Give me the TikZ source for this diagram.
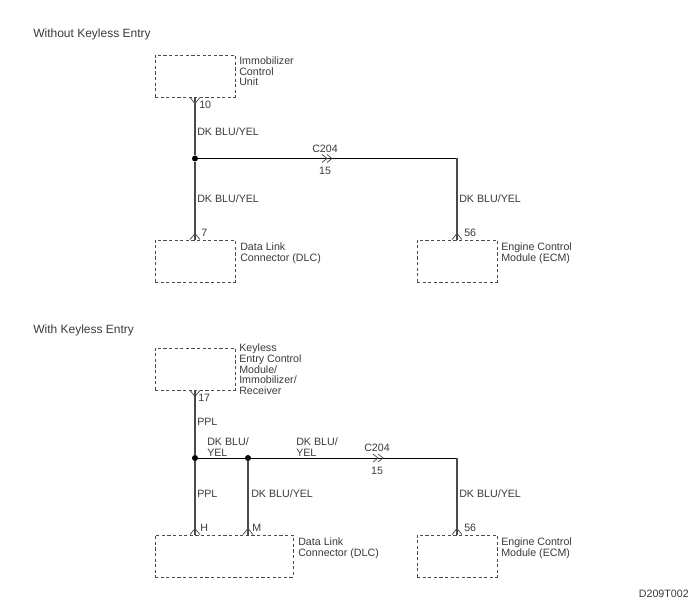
\documentclass[tikz,border=0pt]{standalone}
\usepackage{fontspec}
\setmainfont{Liberation Sans}
\definecolor{wirecol}{HTML}{4A4A4A}
\definecolor{textcol}{HTML}{3A3A3A}
\newcommand{\pinup}[1]{\draw[pinline] ($(#1)+(-5,0)$) -- ($(#1)+(0,-6)$) -- ($(#1)+(5,0)$);}
\newcommand{\pindown}[1]{\draw[pinline] ($(#1)+(-5,0)$) -- ($(#1)+(0,6)$) -- ($(#1)+(5,0)$);}
\newcommand{\chevrons}[1]{\draw[pinline] ($(#1)+(-5,-4)$) -- ($(#1)+(0,0)$) -- ($(#1)+(-5,4)$);
  \draw[pinline] ($(#1)+(0,-4)$) -- ($(#1)+(5,0)$) -- ($(#1)+(0,4)$);}
\usetikzlibrary{calc}
\begin{document}
\begin{tikzpicture}[
  x=.75pt, y=-.75pt,
  compbox/.style={draw=wirecol, dash pattern=on 2.4pt off 1.8pt, line width=.7pt, minimum width=60pt, minimum height=31.5pt, inner sep=0pt},
  lbl/.style={anchor=west, inner sep=0pt, align=left, text=textcol, yshift=-.6pt, font=\fontsize{8pt}{8pt}\selectfont},
  lblc/.style={lbl, anchor=center},
  head/.style={lbl, font=\fontsize{9pt}{9pt}\selectfont},
  wire/.style={draw=wirecol, line width=.8pt},
  hwire/.style={draw=black, line width=.6pt},
  pinline/.style={draw=wirecol, line width=.55pt},
  junction/.style={circle, fill=black, inner sep=0pt, minimum size=4.5pt}]

  \useasboundingbox (0,0) rectangle (700,609);

  \node[head] (headA) at (33,34) {Without Keyless Entry};
  \node[head] (headB) at (33,330) {With Keyless Entry};
  \node[lbl, anchor=east] (code) at (689,593) {D209T002};

  % without keyless entry
  \node[compbox] (imm) at (195,76) {};
  \node[compbox] (dlcA) at (195,261) {};
  \node[compbox] (ecmA) at (457,261) {};
  \node[junction] (jA) at (195,158.5) {};
  \coordinate (cornerA) at (457,158.5);
  \coordinate (crimpA) at (327,158.5);

  \draw[wire] (imm.south) -- (jA);
  \draw[wire] (jA) -- (dlcA.north);
  \draw[hwire] (jA) -- (cornerA);
  \draw[wire] (cornerA) -- (ecmA.north);
  \pindown{imm.south}
  \pinup{dlcA.north}
  \pinup{ecmA.north}
  \chevrons{crimpA}

  \node[lbl] (immText) at (239,70.5) {Immobilizer\\Control\\Unit};
  \node[lbl] at (199,104) {10};
  \node[lbl] at (197,131) {DK BLU/YEL};
  \node[lblc] at (325,148) {C204};
  \node[lblc] at (325,170) {15};
  \node[lbl] at (197,198) {DK BLU/YEL};
  \node[lbl] at (459,198) {DK BLU/YEL};
  \node[lbl] at (201,232) {7};
  \node[lbl] at (464,232) {56};
  \node[lbl] (dlcAText) at (240,252.5) {Data Link\\Connector (DLC)};
  \node[lbl] (ecmAText) at (501,252.5) {Engine Control\\Module (ECM)};

  % with keyless entry
  \node[compbox] (keyless) at (195,369) {};
  \node[compbox, minimum width=103.5pt] (dlcB) at (224,556) {};
  \node[compbox] (ecmB) at (457,556) {};
  \node[junction] (jB) at (195,458) {};
  \node[junction] (jC) at (248,458) {};
  \coordinate (cornerB) at (457,458);
  \coordinate (crimpB) at (378,458);
  \coordinate (pinH) at (jB |- dlcB.north);
  \coordinate (pinM) at (jC |- dlcB.north);

  \draw[wire] (keyless.south) -- (jB);
  \draw[wire] (jB) -- (pinH);
  \draw[wire] (jC) -- (pinM);
  \draw[hwire] (jB) -- (jC);
  \draw[hwire] (jC) -- (cornerB);
  \draw[wire] (cornerB) -- (ecmB.north);
  \pindown{keyless.south}
  \pinup{pinH}
  \pinup{pinM}
  \pinup{ecmB.north}
  \chevrons{crimpB}

  \node[lbl] (keylessText) at (239,368.5) {Keyless\\Entry Control\\Module/\\Immobilizer/\\Receiver};
  \node[lbl] at (198,397) {17};
  \node[lbl] at (197,421) {PPL};
  \node[lbl] at (207,446.5) {DK BLU/\\YEL};
  \node[lbl] at (296,446.5) {DK BLU/\\YEL};
  \node[lblc] at (377,447) {C204};
  \node[lblc] at (377,470) {15};
  \node[lbl] at (197,493) {PPL};
  \node[lbl] at (251,493) {DK BLU/YEL};
  \node[lbl] at (459,493) {DK BLU/YEL};
  \node[lbl] at (200,527) {H};
  \node[lbl] at (252,527) {M};
  \node[lbl] at (464,527) {56};
  \node[lbl] (dlcBText) at (298,547.5) {Data Link\\Connector (DLC)};
  \node[lbl] (ecmBText) at (501,547.5) {Engine Control\\Module (ECM)};
\end{tikzpicture}
\end{document}
